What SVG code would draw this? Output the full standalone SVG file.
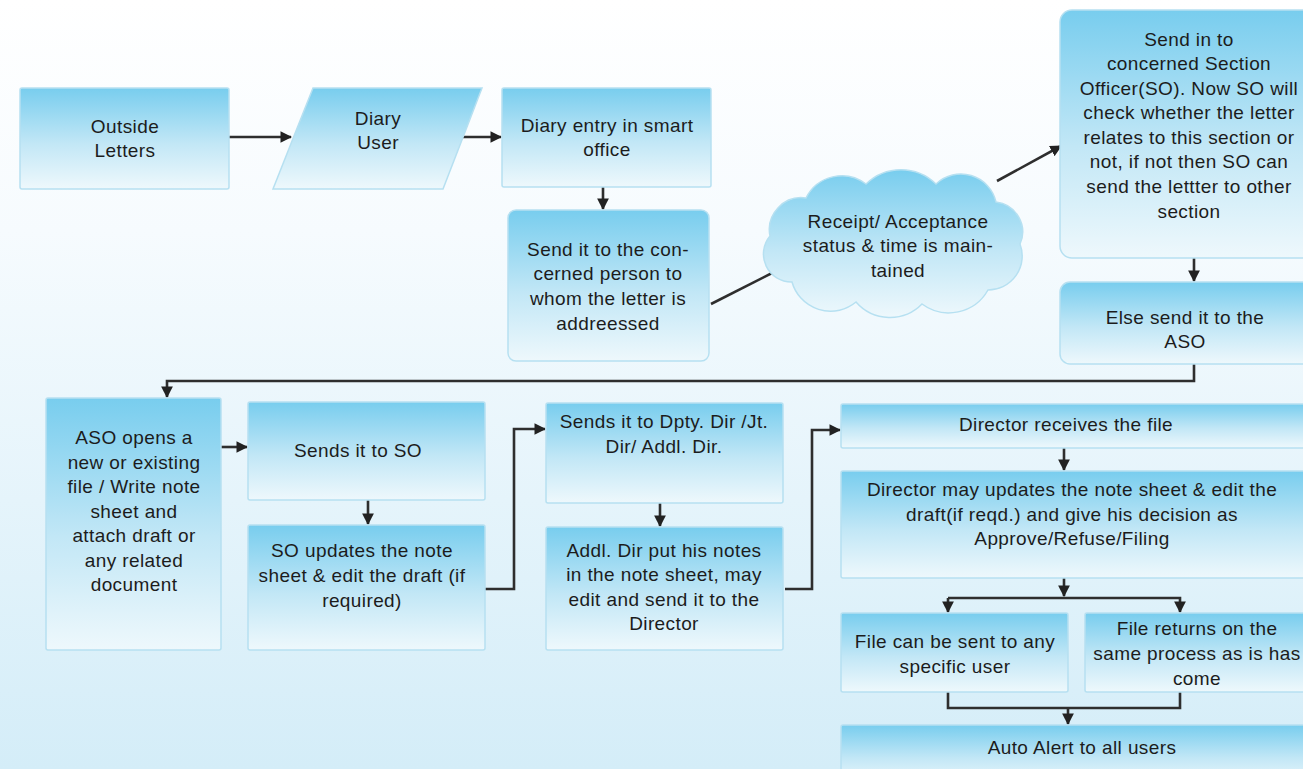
<svg xmlns="http://www.w3.org/2000/svg" width="1303" height="769" viewBox="0 0 1303 769">
<defs>
<linearGradient id="bg" x1="0" y1="0" x2="0" y2="1">
<stop offset="0" stop-color="#ffffff"/>
<stop offset="0.3" stop-color="#f6fbfe"/>
<stop offset="1" stop-color="#d4edf8"/>
</linearGradient>
<linearGradient id="box" x1="0" y1="0" x2="0" y2="1">
<stop offset="0" stop-color="#78cdee"/>
<stop offset="0.55" stop-color="#c2e7f6"/>
<stop offset="1" stop-color="#eef8fc"/>
</linearGradient>
<marker id="ah" viewBox="0 0 10 10" refX="9" refY="5" markerWidth="4.5" markerHeight="4.5" orient="auto" markerUnits="strokeWidth">
<path d="M0,0 L10,5 L0,10 Z" fill="#222"/>
</marker>
<style>
.n{fill:url(#box);stroke:#b6e0f1;stroke-width:1.5}
.t{font-family:"Liberation Sans",Arial,sans-serif;font-size:19px;fill:#1c1c1c;text-anchor:middle;letter-spacing:0.4px}
.c{fill:none;stroke:#2e2e2e;stroke-width:2.6}
.a{marker-end:url(#ah)}
</style>
</defs>
<rect x="0" y="0" width="1303" height="769" fill="url(#bg)"/>

<g id="connectors">
<path class="c a" d="M229,137 H291"/>
<path class="c a" d="M463,137 H501"/>
<path class="c a" d="M603,187 V209"/>
<path class="c" d="M711,304 L776,271"/>
<path class="c a" d="M997,181 L1061,146"/>
<path class="c a" d="M1194,258 V281"/>
<path class="c a" d="M1194,364 V381 H167 V397"/>
<path class="c a" d="M221,447 H247"/>
<path class="c a" d="M368,500 V524"/>
<path class="c a" d="M485,589 H514 V429 H545"/>
<path class="c a" d="M660,503 V526"/>
<path class="c a" d="M785,589 H812 V430 H840"/>
<path class="c a" d="M1064,448 V470"/>
<path class="c a" d="M1064,578 V596"/>
<path class="c a" d="M948,598 H1180 V612"/>
<path class="c a" d="M948,598 V612"/>
<path class="c" d="M948,692 V708 H1180 V692"/>
<path class="c a" d="M1068,708 V724"/>
</g>

<g id="outside-letters">
<rect class="n" x="20" y="88" width="209" height="101" rx="2"/>
<text class="t"><tspan x="125" y="133">Outside</tspan><tspan x="125" y="157">Letters</tspan></text>
</g>
<g id="diary-user">
<path class="n" d="M313,88 H482 L443,189 H273 Z"/>
<text class="t"><tspan x="378" y="125">Diary</tspan><tspan x="378" y="149">User</tspan></text>
</g>
<g id="diary-entry">
<rect class="n" x="502" y="88" width="209" height="99" rx="2"/>
<text class="t"><tspan x="607" y="132">Diary entry in smart</tspan><tspan x="607" y="156">office</tspan></text>
</g>
<g id="send-concerned">
<rect class="n" x="508" y="210" width="201" height="151" rx="8"/>
<text class="t"><tspan x="608" y="256">Send it to the con-</tspan><tspan x="608" y="280">cerned person to</tspan><tspan x="608" y="305">whom the letter is</tspan><tspan x="608" y="330">addreessed</tspan></text>
</g>
<g id="cloud">
<path class="n" d="M792,282 A28,28 0 0 1 770,236 A32,32 0 0 1 806,198 A40,40 0 0 1 866,184 A50,50 0 0 1 936,184 A36,36 0 0 1 996,202 A30,30 0 0 1 1020,244 A34,34 0 0 1 988,290 A45,45 0 0 1 922,304 A45,45 0 0 1 856,302 A40,40 0 0 1 792,282 Z"/>
<text class="t"><tspan x="898" y="228">Receipt/ Acceptance</tspan><tspan x="898" y="252">status &amp; time is main-</tspan><tspan x="898" y="277">tained</tspan></text>
</g>
<g id="section-officer">
<rect class="n" x="1060" y="10" width="260" height="248" rx="12"/>
<text class="t"><tspan x="1189" y="46">Send in to</tspan><tspan x="1189" y="70">concerned Section</tspan><tspan x="1189" y="95">Officer(SO). Now SO will</tspan><tspan x="1189" y="119">check whether the letter</tspan><tspan x="1189" y="144">relates to this section or</tspan><tspan x="1189" y="168">not, if not then SO can</tspan><tspan x="1189" y="193">send the lettter to other</tspan><tspan x="1189" y="218">section</tspan></text>
</g>
<g id="else-aso">
<rect class="n" x="1060" y="282" width="260" height="82" rx="10"/>
<text class="t"><tspan x="1185" y="324">Else send it to the</tspan><tspan x="1185" y="348">ASO</tspan></text>
</g>
<g id="aso-opens">
<rect class="n" x="46" y="398" width="175" height="252" rx="2"/>
<text class="t"><tspan x="134" y="444">ASO opens a</tspan><tspan x="134" y="469">new or existing</tspan><tspan x="134" y="493">file / Write note</tspan><tspan x="134" y="518">sheet and</tspan><tspan x="134" y="542">attach draft or</tspan><tspan x="134" y="567">any related</tspan><tspan x="134" y="591">document</tspan></text>
</g>
<g id="sends-so">
<rect class="n" x="248" y="402" width="237" height="98" rx="2"/>
<text class="t"><tspan x="358" y="457">Sends it to SO</tspan></text>
</g>
<g id="so-updates">
<rect class="n" x="248" y="525" width="237" height="125" rx="2"/>
<text class="t"><tspan x="362" y="557">SO updates the note</tspan><tspan x="362" y="582">sheet &amp; edit the draft (if</tspan><tspan x="362" y="607">required)</tspan></text>
</g>
<g id="sends-dpty">
<rect class="n" x="546" y="403" width="237" height="100" rx="2"/>
<text class="t"><tspan x="664" y="428">Sends it to Dpty. Dir /Jt.</tspan><tspan x="664" y="453">Dir/ Addl. Dir.</tspan></text>
</g>
<g id="addl-dir">
<rect class="n" x="546" y="527" width="237" height="123" rx="2"/>
<text class="t"><tspan x="664" y="557">Addl. Dir put his notes</tspan><tspan x="664" y="581">in the note sheet, may</tspan><tspan x="664" y="606">edit and send it to the</tspan><tspan x="664" y="630">Director</tspan></text>
</g>
<g id="director-receives">
<rect class="n" x="841" y="404" width="480" height="44" rx="2"/>
<text class="t"><tspan x="1066" y="431">Director receives the file</tspan></text>
</g>
<g id="director-may">
<rect class="n" x="841" y="471" width="480" height="107" rx="2"/>
<text class="t"><tspan x="1072" y="496">Director may updates the note sheet &amp; edit the</tspan><tspan x="1072" y="521">draft(if reqd.) and give his decision as</tspan><tspan x="1072" y="545">Approve/Refuse/Filing</tspan></text>
</g>
<g id="file-sent">
<rect class="n" x="841" y="613" width="227" height="79" rx="2"/>
<text class="t"><tspan x="955" y="648">File can be sent to any</tspan><tspan x="955" y="673">specific user</tspan></text>
</g>
<g id="file-returns">
<rect class="n" x="1085" y="613" width="235" height="79" rx="2"/>
<text class="t"><tspan x="1197" y="635">File returns on the</tspan><tspan x="1197" y="660">same process as is has</tspan><tspan x="1197" y="685">come</tspan></text>
</g>
<g id="auto-alert">
<rect class="n" x="841" y="725" width="480" height="60" rx="2"/>
<text class="t"><tspan x="1082" y="754">Auto Alert to all users</tspan></text>
</g>
</svg>
